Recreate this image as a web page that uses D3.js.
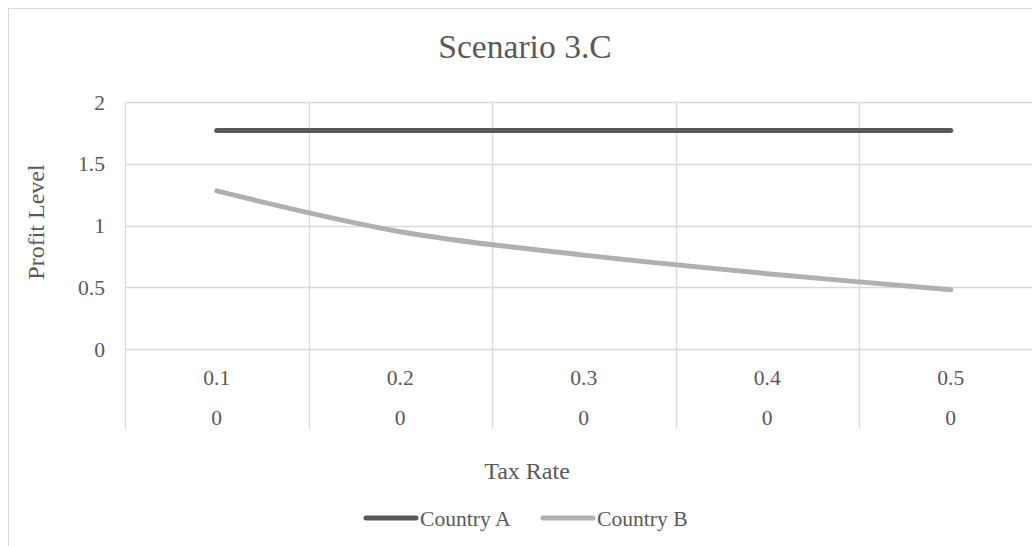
<!DOCTYPE html>
<html>
<head>
<meta charset="utf-8">
<script src="https://cdn.jsdelivr.net/npm/d3@7"></script>
<style>
  body { margin: 0; background: #fff; }
  svg text { font-family: "Liberation Serif", "Times New Roman", serif; fill: #595959; }
</style>
</head>
<body>
<div id="target"></div>
<script>
// data
const taxRates = ["0.1", "0.2", "0.3", "0.4", "0.5"]
const groupLabels = ["0", "0", "0", "0", "0"]
const countryA = [1.77, 1.77, 1.77, 1.77, 1.77]
const countryB = [1.28, 0.95, 0.76, 0.61, 0.48]
const yTicks = [0, 0.5, 1, 1.5, 2]
const seriesNames = ["Country A", "Country B"]

const colors = {
    grid: '#d9d9d9',
    text: '#595959',
    lines: ['#595959', '#b0b0b0']
}

const width = 1032
const height = 546
const plot = { left: 125, right: 1042.5, top: 102, bottom: 349 }

const svg = d3.select("#target").append("svg")
    .attr("width", width)
    .attr("height", height)

// chart frame
svg.append("rect")
    .attr("x", 8.5).attr("y", 8.5)
    .attr("width", 1100).attr("height", 600)
    .attr("fill", "none")
    .attr("stroke", colors.grid)

const x = d3.scaleBand()
    .domain(taxRates)
    .range([plot.left, plot.right])

const y = d3.scaleLinear()
    .domain([0, 2])
    .range([plot.bottom, plot.top])

// horizontal grid
svg.append("g")
    .selectAll("line")
    .data(yTicks)
    .join("line")
    .attr("x1", plot.left)
    .attr("x2", width + 20)
    .attr("y1", d => Math.round(y(d)) + 0.5)
    .attr("y2", d => Math.round(y(d)) + 0.5)
    .attr("stroke", colors.grid)
    .attr("stroke-width", 1.3)

// vertical grid, running down through the category labels
const edges = taxRates.map(d => x(d)).concat([plot.right])
svg.append("g")
    .selectAll("line")
    .data(edges)
    .join("line")
    .attr("x1", d => Math.round(d) + 0.5)
    .attr("x2", d => Math.round(d) + 0.5)
    .attr("y1", plot.top)
    .attr("y2", 429)
    .attr("stroke", colors.grid)
    .attr("stroke-width", 1.3)

// y tick labels
svg.append("g")
    .selectAll("text")
    .data(yTicks)
    .join("text")
    .attr("x", 105)
    .attr("y", d => y(d))
    .attr("dy", "0.35em")
    .attr("text-anchor", "end")
    .attr("font-size", 21.6)
    .text(d => d)

// category labels (two levels)
const cat = svg.append("g")
cat.selectAll(".lvl1")
    .data(taxRates)
    .join("text")
    .attr("class", "lvl1")
    .attr("x", d => x(d) + x.bandwidth() / 2)
    .attr("y", 377)
    .attr("dy", "0.35em")
    .attr("text-anchor", "middle")
    .attr("font-size", 21.6)
    .text(d => d)

cat.selectAll(".lvl2")
    .data(groupLabels)
    .join("text")
    .attr("class", "lvl2")
    .attr("x", (d, i) => x(taxRates[i]) + x.bandwidth() / 2)
    .attr("y", 417)
    .attr("dy", "0.35em")
    .attr("text-anchor", "middle")
    .attr("font-size", 21.6)
    .text(d => d)

// lines
const series = [countryA, countryB]
const line = d3.line()
    .x((d, i) => x(taxRates[i]) + x.bandwidth() / 2)
    .y(d => y(d))
    .curve(d3.curveCardinal.tension(0))

svg.append("g")
    .selectAll("path")
    .data(series)
    .join("path")
    .attr("d", d => line(d))
    .attr("fill", "none")
    .attr("stroke", (d, i) => colors.lines[i])
    .attr("stroke-width", 5)
    .attr("stroke-linecap", "round")
    .attr("stroke-linejoin", "round")

// title
svg.append("text")
    .attr("x", 525)
    .attr("y", 58)
    .attr("text-anchor", "middle")
    .attr("font-size", 33.6)
    .text("Scenario 3.C")

// axis titles
svg.append("text")
    .attr("transform", "translate(44,222) rotate(-90)")
    .attr("text-anchor", "middle")
    .attr("font-size", 24)
    .text("Profit Level")

svg.append("text")
    .attr("x", 527)
    .attr("y", 479)
    .attr("text-anchor", "middle")
    .attr("font-size", 24)
    .text("Tax Rate")

// legend
const legendX = [366, 543]
const legend = svg.append("g")
    .selectAll("g")
    .data(seriesNames)
    .join("g")
    .attr("transform", (d, i) => `translate(${legendX[i]},518)`)

legend.append("line")
    .attr("x1", 0).attr("x2", 50)
    .attr("y1", 0).attr("y2", 0)
    .attr("stroke", (d, i) => colors.lines[i])
    .attr("stroke-width", 5)
    .attr("stroke-linecap", "round")

legend.append("text")
    .attr("x", 54)
    .attr("y", 0)
    .attr("dy", "0.35em")
    .attr("font-size", 21.6)
    .text(d => d)
</script>
</body>
</html>
